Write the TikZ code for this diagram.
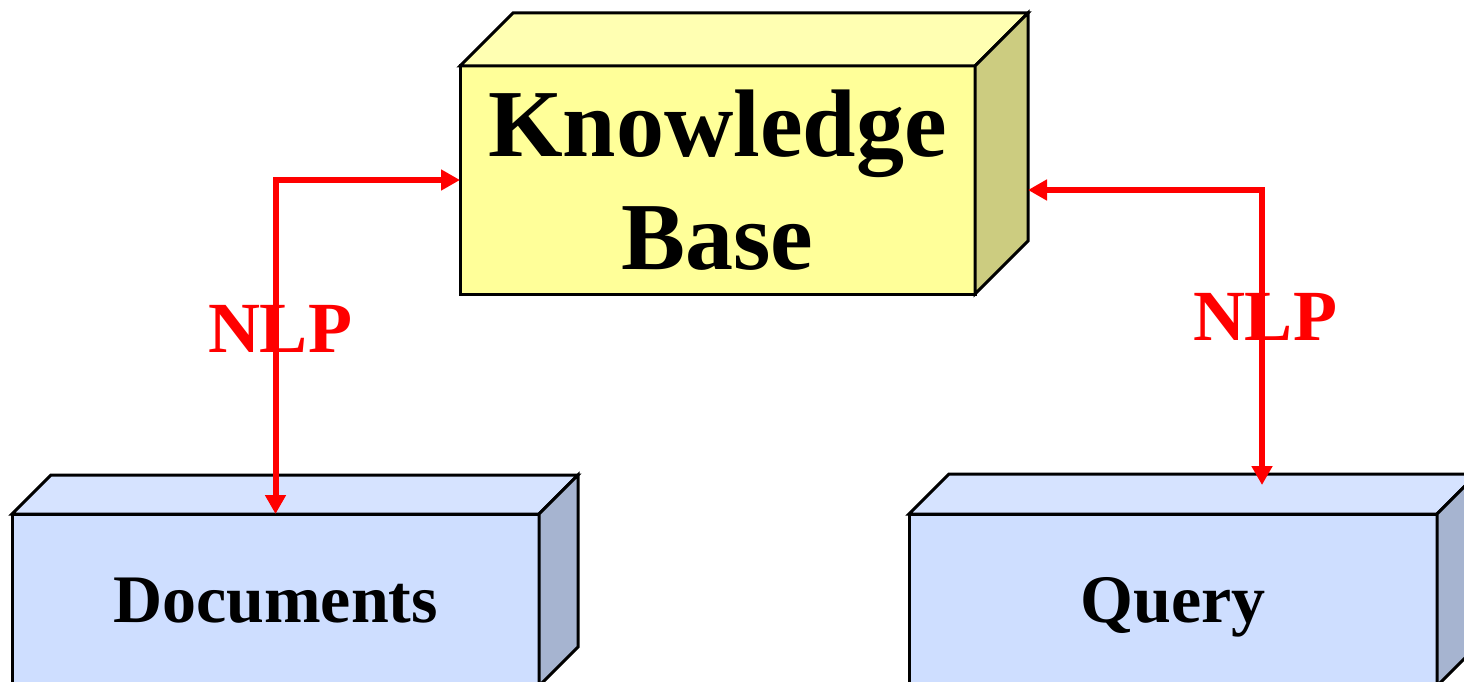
\documentclass[tikz,border=0pt]{standalone}
\usepackage{fontspec}
\setmainfont{Liberation Serif}
\usetikzlibrary{arrows.meta,calc}
\definecolor{kbfront}{RGB}{255,255,153}
\definecolor{kbtop}{RGB}{255,255,178}
\definecolor{kbside}{RGB}{204,204,128}
\definecolor{infront}{RGB}{206,222,255}
\definecolor{intop}{RGB}{214,227,255}
\definecolor{inside}{RGB}{166,180,208}
\tikzset{
	face/.style={draw=black, line width=3pt, line join=miter},
	front/.style={face, inner sep=0pt, outer sep=0pt, align=center},
	link/.style={draw=red, line width=6pt,
		{Triangle[length=19pt,width=20pt]}-{Triangle[length=19pt,width=20pt]}},
	nlptext/.style={text=red, font=\fontsize{72}{80}\selectfont\bfseries, inner sep=0pt}
}
% top and side of a box, from the corners of its front node
\def\boxfaces(#1)(#2)(#3:#4){
	\draw[face, fill=#3] (#1.north west) -- ++(#2,-#2) -- ($(#1.north east)+(#2,-#2)$) -- (#1.north east) -- cycle;
	\draw[face, fill=#4] (#1.north east) -- ++(#2,-#2) -- ($(#1.south east)+(#2,-#2)$) -- (#1.south east) -- cycle;
}

\begin{document}
\begin{tikzpicture}[x=1pt, y=-1pt]
			%%%%% START %%%%%
			
			\useasboundingbox (0, 0) rectangle (1464, 682);
			
			\node[front, fill=kbfront, minimum width=515pt, minimum height=228pt,
				font=\fontsize{96}{113}\selectfont\bfseries] (kb) at (717.5, 180) {Knowledge\\Base};
			\boxfaces(kb)(53)(kbtop:kbside)
			
			\node[front, fill=infront, minimum width=527pt, minimum height=172pt, text depth=0pt,
				font=\fontsize{68}{76}\selectfont\bfseries] (doc) at (275.5, 600) {Documents};
			\boxfaces(doc)(39)(intop:inside)
			
			\node[front, fill=infront, minimum width=528pt, minimum height=172pt, text depth=0pt,
				font=\fontsize{68}{76}\selectfont\bfseries] (query) at (1173, 600) {Query};
			\boxfaces(query)(40)(intop:inside)
			
			\coordinate (kbback) at ($(kb.east)+(53,10)$);
			\coordinate (qtop) at ($(query.north)+(89,-29)$);
			
			\draw[link] (kb.west) -| (doc.north);
			\draw[link] (kbback) -| (qtop);
			
			\node[nlptext, anchor=base] (nlpl) at (280, 352) {NLP};
			\node[nlptext, anchor=base] (nlpr) at (1265, 340) {NLP};
			
			%%%%% END %%%%%
		\end{tikzpicture}
\end{document}
